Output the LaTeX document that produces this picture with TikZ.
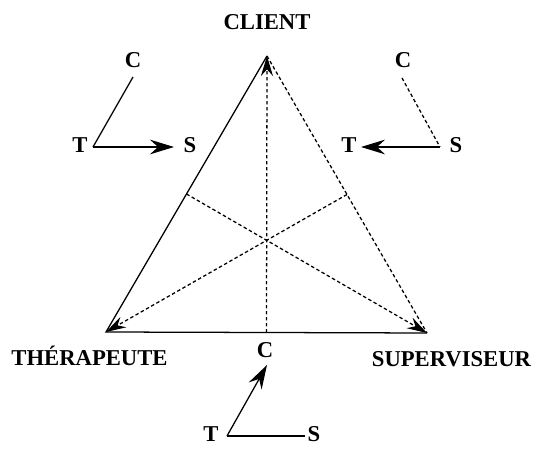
\documentclass[tikz,border=0pt]{standalone}
\usepackage{fontspec}
\setmainfont{Liberation Serif}
\usetikzlibrary{arrows.meta,calc}
\tikzset{
  lbl/.style={font=\bfseries\fontsize{17}{19}\selectfont,inner sep=0pt,anchor=base},
  dashline/.style={dash pattern=on 2.6pt off 1.9pt},
  bigtip/.style={-{Stealth[length=15pt,width=9pt,inset=5pt]}},
  smalltip/.style={-{Stealth[length=18pt,width=11pt,inset=6pt]}},
}
\begin{document}
\begin{tikzpicture}[x=0.75pt,y=-0.75pt,line width=0.95pt]
  \useasboundingbox (0,0) rectangle (533,449);
  % corners of the triangle
  \coordinate (cl) at (267,56);
  \coordinate (th) at (106,332);
  \coordinate (su) at (427,333);
  \coordinate (mTh) at ($(cl)!0.5!(th)$);
  \coordinate (mSu) at ($(cl)!0.5!(su)$);
  \coordinate (mBot) at ($(th)!0.5!(su)$);
  \draw (cl) -- (th) -- (su);
  \draw[dashline] (cl) -- (su);
  \draw[dashline,bigtip] (mBot) -- (cl);
  \draw[dashline,bigtip] (mTh) -- (su);
  \draw[dashline,bigtip] (mSu) -- (th);
  % labels of the corners
  \node[lbl] (client) at (267,30) {CLIENT};
  \node[lbl] (therap) at (89.5,366) {THÉRAPEUTE};
  \node[lbl] (superv) at (451.5,367) {SUPERVISEUR};
  % top left
  \node[lbl] (tlC) at (133,68) {C};
  \node[lbl] (tlT) at (80,153) {T};
  \node[lbl] (tlS) at (190,153) {S};
  \coordinate (tlc) at (133,77);
  \coordinate (tlo) at (93,147);
  \coordinate (tls) at (174,147);
  \draw (tlc) -- (tlo);
  \draw[smalltip] (tlo) -- (tls);
  % top right
  \node[lbl] (trC) at (403,68) {C};
  \node[lbl] (trT) at (349,153) {T};
  \node[lbl] (trS) at (456,153) {S};
  \coordinate (trc) at (402,78);
  \coordinate (tro) at (440,147);
  \coordinate (trt) at (361,147);
  \draw[dashline] (trc) -- (tro);
  \draw[smalltip] (tro) -- (trt);
  % bottom
  \node[lbl] (bC) at (265,358) {C};
  \node[lbl] (bT) at (211,442) {T};
  \node[lbl] (bS) at (314,442) {S};
  \coordinate (bo) at (227,436);
  \coordinate (bs) at (305,436);
  \coordinate (bc) at (267,365);
  \draw (bo) -- (bs);
  \draw[smalltip] (bo) -- (bc);
\end{tikzpicture}
\end{document}
